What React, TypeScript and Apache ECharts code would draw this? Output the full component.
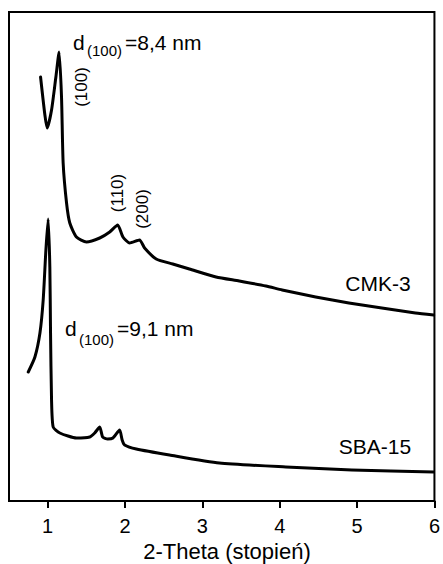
import React, { useEffect, useRef } from "react";
import * as echarts from "echarts";

// CMK-3 diffractogram (2-Theta, relative intensity a.u.)
const cmk3Theta = [0.908, 0.964, 0.994, 1.05, 1.106, 1.148, 1.179, 1.2, 1.244, 1.286, 1.372, 1.501, 1.673, 1.802, 1.905, 1.973, 2.059, 2.188, 2.253, 2.403, 2.617, 2.832, 3.177, 3.477, 3.821, 4.031, 4.465, 4.894, 5.32, 5.754, 5.99];
const cmk3Intensity = [424, 386, 373, 391, 424, 449, 404, 338, 298, 278, 264, 259, 263, 269, 276, 264, 258, 261, 253, 242, 237, 232, 224, 220, 215, 211, 204, 198, 193, 188, 186];

// SBA-15 diffractogram
const sbaTheta = [0.749, 0.835, 0.9, 0.942, 0.977, 1.006, 1.028, 1.037, 1.05, 1.071, 1.157, 1.372, 1.544, 1.608, 1.673, 1.711, 1.776, 1.844, 1.93, 1.963, 1.995, 2.146, 2.575, 3.219, 4.079, 4.933, 5.99];
const sbaIntensity = [129, 144, 168, 201, 251, 282, 234, 168, 101, 74, 68, 63, 64, 68, 74, 64, 62, 63, 71, 61, 56, 52, 46, 38, 34, 31, 29];

const xTicks = [1, 2, 3, 4, 5, 6];

const FONT = "'Liberation Sans', Arial, Helvetica, sans-serif";

export default function App() {
  const ref = useRef<HTMLDivElement>(null);
  useEffect(() => {
    if (!ref.current) return;
    const chart = echarts.init(ref.current, undefined, { renderer: "svg" });
    const zip = (xs: number[], ys: number[]) => xs.map((x, i) => [x, ys[i]]);
    const txt = (text: string, x: number, y: number, size: number, align = "left", rotation = 0) => ({
      type: "text",
      x,
      y,
      rotation,
      style: {
        text,
        fontSize: size,
        fontFamily: FONT,
        fill: "#000",
        align,
        verticalAlign: "middle",
      },
    });
    chart.setOption({
      animation: false,
      grid: {
        left: 9,
        right: 7,
        top: 12,
        bottom: 63,
        show: true,
        borderColor: "#000",
        borderWidth: 2,
        backgroundColor: "#fff",
      },
      xAxis: {
        type: "value",
        min: 0.5,
        max: 6,
        axisLine: { show: true, lineStyle: { color: "#000", width: 2 } },
        axisTick: {
          show: true,
          inside: false,
          length: 7,
          lineStyle: { color: "#000", width: 2 },
          customValues: xTicks,
        },
        axisLabel: {
          show: true,
          color: "#000",
          fontSize: 20,
          fontFamily: FONT,
          margin: 15,
          customValues: xTicks,
        },
        splitLine: { show: false },
      },
      yAxis: {
        type: "value",
        min: 0,
        max: 489,
        show: false,
        splitLine: { show: false },
      },
      series: [
        {
          name: "CMK-3",
          type: "line",
          data: zip(cmk3Theta, cmk3Intensity),
          showSymbol: false,
          smooth: 0.2,
          lineStyle: { color: "#000", width: 3, join: "round", cap: "round" },
        },
        {
          name: "SBA-15",
          type: "line",
          data: zip(sbaTheta, sbaIntensity),
          showSymbol: false,
          smooth: 0.2,
          lineStyle: { color: "#000", width: 3, join: "round", cap: "round" },
        },
      ],
      graphic: [
        txt("d", 73, 42, 21),
        txt("(100)", 87, 50, 15),
        txt("=8,4 nm", 125, 42, 21),
        txt("d", 65, 328, 21),
        txt("(100)", 79, 339, 15),
        txt("=9,1 nm", 117, 328, 21),
        txt("(100)", 81, 87, 17, "center", Math.PI / 2),
        txt("(110)", 117, 193, 17, "center", Math.PI / 2),
        txt("(200)", 142, 209, 17, "center", Math.PI / 2),
        txt("CMK-3", 378, 283, 21, "center"),
        txt("SBA-15", 375, 446, 21, "center"),
        txt("2-Theta (stopień)", 227, 551, 22, "center"),
      ],
    });
    return () => chart.dispose();
  }, []);
  return (
    <div
      ref={ref}
      style={{ position: "absolute", left: 0, top: 0, width: 443, height: 564, background: "#fff" }}
    />
  );
}
